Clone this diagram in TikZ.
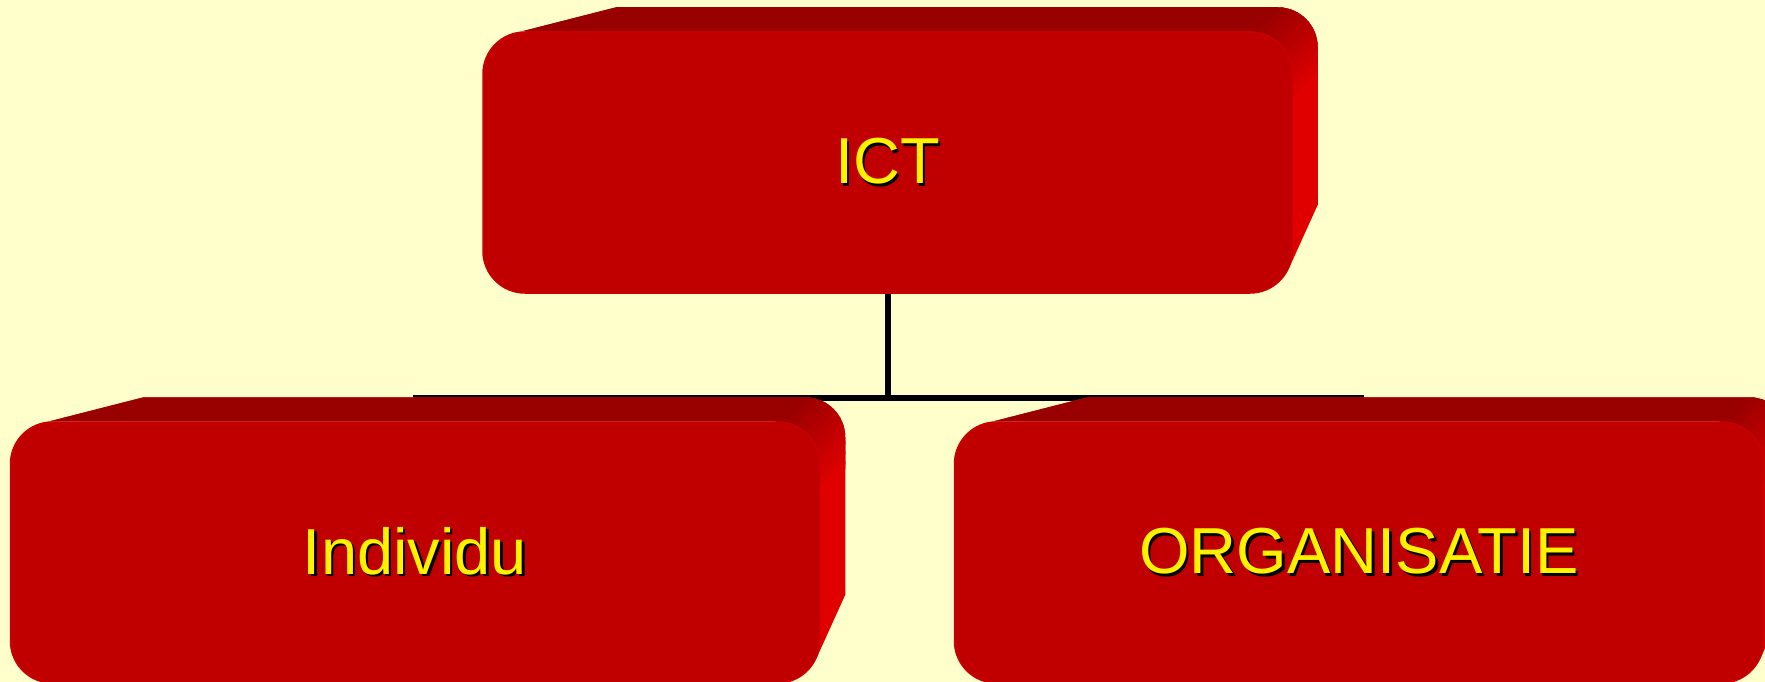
\documentclass[tikz,border=0pt]{standalone}
\usepackage{fontspec}
\setmainfont{Liberation Sans}
\usepackage{xcolor}
\usepackage{tikz}
\usetikzlibrary{calc}
\definecolor{paper}{HTML}{FFFFCC}
\definecolor{boxface}{HTML}{C00000}
\definecolor{boxtop}{HTML}{990000}
\definecolor{boxside}{HTML}{E00000}
\newcommand{\shtext}[1]{\rlap{\kern2.5pt\raisebox{-2.5pt}{\color{black}#1}}#1}
\pgfdeclarelayer{paperlayer}
\pgfdeclarelayer{backlayer}
\pgfsetlayers{paperlayer,backlayer,main}

\begin{document}
\begin{tikzpicture}[
  x=1pt, y=-1pt,
  every node/.style={font=\fontsize{65}{78}\selectfont, text=yellow},
  face/.style={fill=boxface, draw=boxface!70!boxside, line width=1.5pt, rounded corners=42pt, minimum width=809pt, minimum height=261pt, inner sep=0pt},
  link/.style={draw=black, line width=6pt}
]
\useasboundingbox (0,0) rectangle (1765,682);
\clip (0,0) rectangle (1765,682);
\node[face] (ict) at (887.5,162.5) {\shtext{ICT}};
\node[face] (ind) at (415,552.5) {\shtext{Individu}};
\node[face] (org) at (1359,552.5) {\shtext{ORGANISATIE}};

\begin{pgfonlayer}{paperlayer}
\fill[paper] (0,0) rectangle (1765,682);
\end{pgfonlayer}

\begin{pgfonlayer}{backlayer}
\clip (0,0) rectangle (1765,682);
\coordinate (busL) at (413,398);
\coordinate (busR) at (1364,398);
\draw[link] (ict.south) -- (ict.south |- busL);
\draw[link] (busL) -- (busR);
\foreach \n in {ict,ind,org} {
  \coordinate (nw) at (\n.north west);
  \coordinate (ne) at (\n.north east);
  \coordinate (se) at (\n.south east);
  \fill[boxside] ($(nw)+(40,0)$) -- ($(nw)+(134,-24)$) -- ($(ne)+(-15,-24)$)
    arc[start angle=90, end angle=0, radius=40pt] -- ($(se)+(25,-89)$)
    -- ($(se)+(-4,-25)$) -- ($(se)+(-20,-25)$) -- (ne) -- cycle;
  \fill[boxtop] ($(nw)+(40,0)$) -- ($(nw)+(134,-24)$) -- ($(ne)+(-20,-24)$)
    -- ($(ne)+(-45,0)$) -- cycle;
  \begin{scope}
    \clip ($(ne)+(-45,0)$) -- ($(ne)+(-20,-24)$) -- ($(ne)+(-15,-24)$)
      arc[start angle=90, end angle=0, radius=40pt] -- ($(ne)+(25,48)$)
      -- ($(ne)+(0,75)$) -- cycle;
    \foreach \t in {0,...,11} {
      \pgfmathtruncatemacro{\mix}{\t*100/11}
      \fill[boxside!\mix!boxtop] ($(ne)+({-45+3.75*\t},{6.25*\t})$) -- ++(90,-90)
        -- ($(ne)+({-45+3.75*(\t+1.3)+90},{6.25*(\t+1.3)-90})$)
        -- ($(ne)+({-45+3.75*(\t+1.3)},{6.25*(\t+1.3)})$) -- cycle;
    }
  \end{scope}
}
\end{pgfonlayer}
\end{tikzpicture}
\end{document}
